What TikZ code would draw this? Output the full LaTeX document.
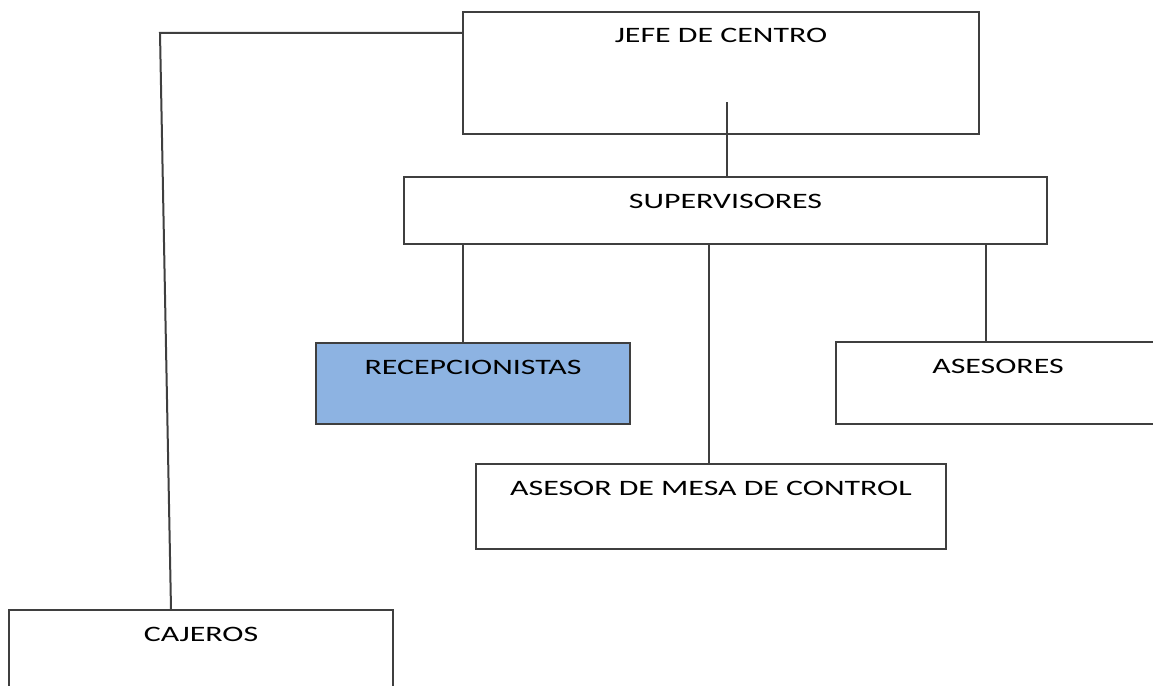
\documentclass[tikz,border=0pt]{standalone}
\usepackage{fontspec}
\setmainfont[FakeStretch=1.45]{Carlito}
\definecolor{recepblue}{HTML}{8DB3E2}
\definecolor{linegray}{HTML}{3F3F3F}
\tikzset{
    box/.style={draw=linegray, line width=2pt, inner sep=0pt, anchor=north west, text height=31pt, text=black, font=\fontsize{22}{26}\selectfont},
    conn/.style={draw=linegray, line width=2pt}
}
\begin{document}
\begin{tikzpicture}[x=1pt,y=-1pt]
    \useasboundingbox (0,0) rectangle (1153,685);
    \clip (0,0) rectangle (1153,685);
    %draw boxes
    \node[box, minimum width=516pt, text depth=91pt] (jefe) at (462,11) {JEFE DE CENTRO};
    \node[box, minimum width=643pt, text depth=36pt] (sup) at (403,176) {SUPERVISORES};
    \node[box, fill=recepblue, minimum width=314pt, text depth=50pt] (recep) at (315,342) {RECEPCIONISTAS};
    \node[box, minimum width=324pt, text depth=51pt] (ases) at (835,341) {ASESORES};
    \node[box, minimum width=470pt, text depth=54pt] (mesa) at (475,463) {ASESOR DE MESA DE CONTROL};
    \node[box, minimum width=384pt, text depth=89pt] (caj) at (8,609) {CAJEROS};
    %draw lines
    \coordinate (jefein) at (727,102);
    \coordinate (jefeleft) at (462,33);
    \coordinate (corner) at (160,33);
    \draw[conn] (jefein) -- (jefein |- sup.north);
    \draw[conn] (jefeleft) -- (corner) -- ([xshift=-30pt]caj.north);
    \draw[conn] ([xshift=-10pt]recep.north) -- ([xshift=-10pt]recep.north |- sup.south);
    \draw[conn] ([xshift=-2pt]mesa.north) -- ([xshift=-2pt]mesa.north |- sup.south);
    \draw[conn] ([xshift=-12pt]ases.north) -- ([xshift=-12pt]ases.north |- sup.south);
\end{tikzpicture}
\end{document}
